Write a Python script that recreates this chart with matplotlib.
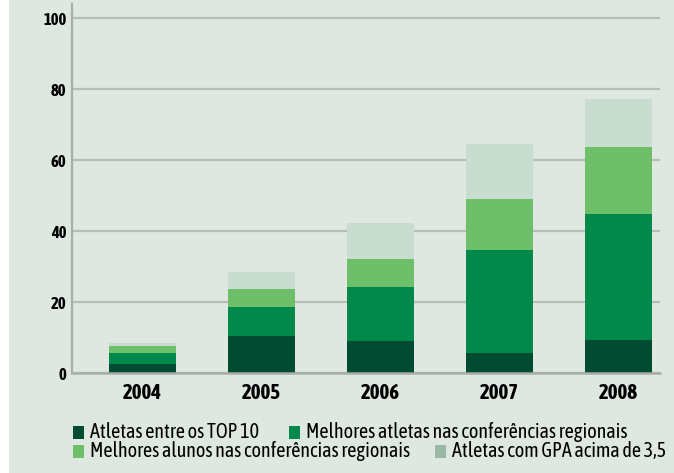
import matplotlib
matplotlib.use("Agg")
import matplotlib.pyplot as plt
from matplotlib.patches import Rectangle
import numpy as np

plt.rcParams['font.family'] = ['Asap Condensed', 'DejaVu Sans']

years = ['2004', '2005', '2006', '2007', '2008']
top10 = [2.5, 10.5, 9.1, 5.7, 9.3]
atletas_reg = [3.2, 8.2, 15.0, 29.1, 35.4]
alunos_reg = [1.9, 5.1, 7.9, 14.2, 19.0]
gpa = [0.9, 4.8, 10.2, 15.5, 13.6]

labels = ['Atletas entre os TOP 10',
          'Melhores atletas nas conferências regionais',
          'Melhores alunos nas conferências regionais',
          'Atletas com GPA acima de 3,5']
colors = ['#004b32', '#00894b', '#6dbf6a', '#c8ddd0']
legend_colors = ['#004b32', '#00894b', '#6dbf6a', '#9ab9a4']
bg = '#dfe8e0'

W, H = 674, 473
fig = plt.figure(figsize=(W / 100, H / 100), dpi=100, facecolor=bg)
fig.patches.append(Rectangle((0, 0), 9 / W, 1, transform=fig.transFigure,
                             facecolor='white', edgecolor='none', zorder=0))

ax = fig.add_axes([72 / W, 1 - 373 / H, (660 - 72) / W, (373 - 4) / H])
ax.set_facecolor(bg)

x = np.arange(len(years))
series = [top10, atletas_reg, alunos_reg, gpa]
bottom = np.zeros(len(years))
for vals, c in zip(series, colors):
    ax.bar(x, vals, width=0.56, bottom=bottom, color=c, zorder=3)
    bottom += np.array(vals)

ax.set_xlim(-0.59, 4.35)
ax.set_ylim(0, 104)
ax.set_yticks([0, 20, 40, 60, 80, 100])
ax.yaxis.grid(True, color='#b9bdb9', linewidth=1.6, zorder=1)
ax.set_axisbelow(True)

for s in ['top', 'right']:
    ax.spines[s].set_visible(False)
ax.spines['left'].set_color('#a9ada9')
ax.spines['left'].set_linewidth(1.6)
ax.spines['bottom'].set_color('#a9ada9')
ax.spines['bottom'].set_linewidth(1.8)
ax.spines['bottom'].set_zorder(4)

ax.set_xticks(x)
ax.set_xticklabels(years, fontsize=15, fontweight='bold')
ax.tick_params(axis='x', length=0, pad=7)
ax.tick_params(axis='y', length=0, pad=4, labelsize=12)
for t in ax.get_yticklabels():
    t.set_fontweight('bold')

# legend, laid out as flowing rows
entries = [(73, 90, 432), (289, 306, 432), (73, 90, 451), (435, 452, 451)]
for (sx, tx, ty), lab, c in zip(entries, labels, legend_colors):
    fig.patches.append(Rectangle((sx / W, 1 - (ty + 6.5) / H), 11 / W, 13 / H,
                                 transform=fig.transFigure, facecolor=c,
                                 edgecolor='none'))
    fig.text(tx / W, 1 - ty / H, lab, fontsize=14.5, va='center', ha='left',
             color='black')

fig.savefig('out.png', dpi=100, facecolor=bg)
